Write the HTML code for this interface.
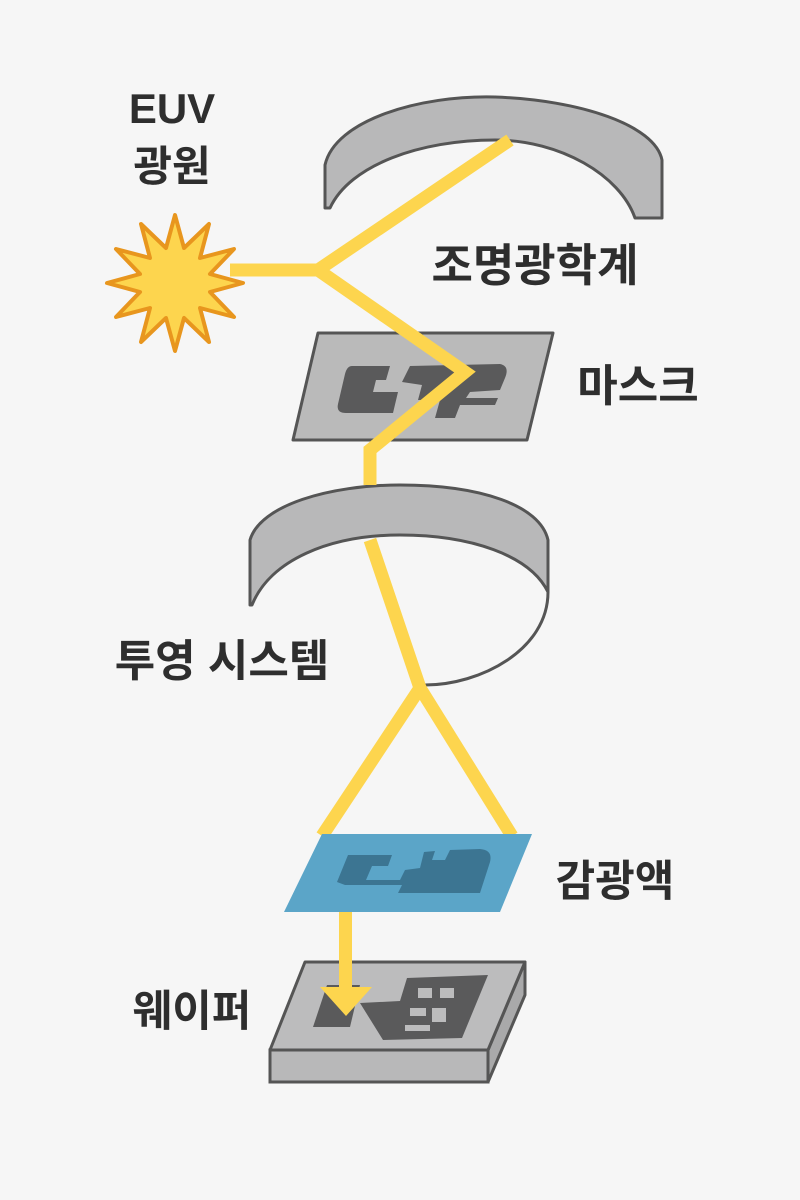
<!DOCTYPE html>
<html><head><meta charset="utf-8"><style>
html,body{margin:0;padding:0;background:#f6f6f6;}
svg{display:block}
text{font-family:"Liberation Sans","Noto Sans CJK KR",sans-serif;font-weight:bold;fill:#2e2e2e;}
</style></head><body>
<svg width="800" height="1200" viewBox="0 0 800 1200">
<rect width="800" height="1200" fill="#f6f6f6"/>
<path d="M325,208 L325,165 C335,120 420,95 495,97 C580,100 655,125 662,160 L662,218 L635,218 C620,175 560,140 495,140 C420,140 350,165 330,208 Z" fill="#b8b8b9" stroke="#555" stroke-width="3" stroke-linejoin="round"/>
<path d="M250,605 L250,540 C260,505 330,485 400,485 C480,485 540,505 548,540 L548,592 C530,555 470,535 400,535 C330,535 270,560 252,605 Z" fill="#b8b8b9" stroke="#555" stroke-width="3" stroke-linejoin="round"/>
<path d="M548,592 C548,650 480,685 425,685" fill="none" stroke="#555" stroke-width="3"/>
<polygon points="318,333 553,333 527,440 293,440" fill="#bababa" stroke="#555" stroke-width="3" stroke-linejoin="round"/>
<path d="M352,366 L390,366 L386,380 L376,380 L373,392 L398,392 L393,413 L346,413 Q336,413 338,404 L345,374 Q347,366 352,366 Z M402,382 L410,366 L500,364 Q510,366 505,378 L500,390 L470,392 L466,398 L498,398 L495,405 L460,405 L455,418 L435,418 L440,400 L418,400 L422,385 Z" fill="#5a5a5b"/>
<polyline points="230,270 318,270 510,140" fill="none" stroke="#fdd54e" stroke-width="13" stroke-linejoin="miter"/>
<polyline points="318,270 465,372 370,450 370,485" fill="none" stroke="#fdd54e" stroke-width="13"/>
<polyline points="370,540 420,688 322,836" fill="none" stroke="#fdd54e" stroke-width="13"/>
<polyline points="420,688 512,836" fill="none" stroke="#fdd54e" stroke-width="13"/>
<polygon points="322,834 532,834 500,912 284,912" fill="#5ba5c8"/>
<path d="M348,855 L392,855 L388,866 L372,866 L366,880 L400,880 L405,870 L420,868 L424,852 L435,851 L432,860 L445,860 L450,850 L480,849 Q493,850 490,862 L480,893 L398,893 L402,885 L345,885 L337,882 Z M410,880 L420,880 L418,886 L408,886 Z M430,872 L442,872 L440,880 L428,880 Z" fill="#3c7592"/>
<polygon points="525,962 525,995 488,1082 488,1050" fill="#a9a9aa" stroke="#555" stroke-width="3" stroke-linejoin="round"/>
<rect x="270" y="1050" width="218" height="32" fill="#b8b8b9" stroke="#555" stroke-width="3"/>
<polygon points="305,962 525,962 488,1050 270,1050" fill="#bcbcbd" stroke="#555" stroke-width="3" stroke-linejoin="round"/>
<polygon points="327,985 360,985 350,1027 313,1027" fill="#5a5a5b"/>
<path d="M360,1003 L400,1001 L407,978 L488,975 L462,1038 L383,1040 Z" fill="#5a5a5b"/>
<rect x="418" y="988" width="14" height="10" fill="#bcbcbd"/>
<rect x="440" y="988" width="14" height="10" fill="#bcbcbd"/>
<rect x="410" y="1008" width="16" height="8" fill="#bcbcbd"/>
<rect x="432" y="1008" width="14" height="14" fill="#bcbcbd"/>
<rect x="405" y="1025" width="25" height="6" fill="#bcbcbd"/>
<rect x="339" y="912" width="13" height="78" fill="#fdd54e"/>
<polygon points="320,987 372,987 346,1016" fill="#fdd54e"/>
<polygon points="175,215 184,248 209,224 200,258 234,249 210,274 243,283 210,292 234,317 200,308 209,342 184,318 175,351 166,318 141,342 150,308 116,317 140,292 107,283 140,274 116,249 150,258 141,224 166,248" fill="#fdd54e" stroke="#e8961e" stroke-width="4" stroke-linejoin="round"/>
<text x="172" y="123" font-size="42" text-anchor="middle">EUV</text>
<text x="172" y="181" font-size="42" text-anchor="middle">광원</text>
<text x="535" y="281" font-size="45" text-anchor="middle">조명광학계</text>
<text x="638" y="401" font-size="44" text-anchor="middle">마스크</text>
<text x="222" y="676" font-size="44" text-anchor="middle">투영 시스템</text>
<text x="615" y="896" font-size="43" text-anchor="middle">감광액</text>
<text x="192" y="1026" font-size="43" text-anchor="middle">웨이퍼</text>
</svg>
</body></html>
